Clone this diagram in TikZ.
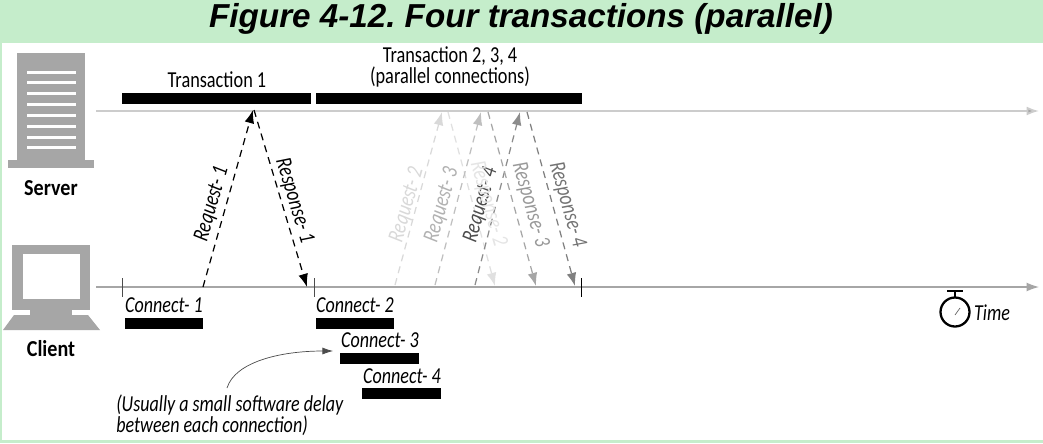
\documentclass[tikz,border=0pt]{standalone}
\usepackage{fontspec}
\setmainfont{Liberation Sans}
\newfontfamily\narrowfont{Carlito}
\usepackage{xcolor}
\usetikzlibrary{arrows.meta,positioning,calc}
\definecolor{headgreen}{HTML}{C5EDCB}
\definecolor{icongray}{HTML}{A6A6A6}
\tikzset{
    lbl/.style={font=\narrowfont\fontsize{13}{12}\selectfont,inner sep=0pt,xscale=0.8},
    ital/.style={font=\narrowfont\itshape\fontsize{13}{12.5}\selectfont,inner sep=0pt,xscale=0.79},
    boldlbl/.style={font=\narrowfont\bfseries\fontsize{13}{13}\selectfont,inner sep=0pt,xscale=0.88},
    msg/.style={-{Latex[length=7.5pt,width=5.5pt]},dash pattern=on 4pt off 3pt,line width=0.7pt},
    timeline/.style={-{Latex[length=7pt,width=5pt]},line width=1pt},
}
\begin{document}
\begin{tikzpicture}[x=0.02cm,y=-0.02cm]
        \useasboundingbox (0,0) rectangle (1043,443);
        % Draw frame and title
        \fill[headgreen] (0,0) rectangle (1043,443);
        \fill[white] (2,43) rectangle (1043,440);
        \node[font=\bfseries\itshape\fontsize{18.9}{20}\selectfont,inner sep=0pt] (title) at (521,19) {\frenchspacing Figure 4-12. Four transactions (parallel)};
        % Draw server icon
        \fill[icongray] (17,53) rectangle (85,160);
        \fill[icongray] (8,160) rectangle (94,168);
        \fill[white] (27,71) rectangle (76,74);
        \fill[white] (27,81) rectangle (76,84);
        \fill[white] (27,92) rectangle (76,95);
        \fill[white] (27,103) rectangle (76,106);
        \fill[white] (27,114) rectangle (76,117);
        \fill[white] (27,125) rectangle (76,128);
        \fill[white] (27,136) rectangle (76,139);
        \fill[white] (27,146) rectangle (76,149);
        \node[boldlbl] (server) at (51,188) {Server};
        % Draw client icon
        \fill[icongray] (12,245) rectangle (90,310);
        \fill[white] (23,254) rectangle (80,299);
        \fill[icongray] (30,310) rectangle (72,316);
        \fill[icongray] (14,315) -- (88,315) -- (100,330) -- (3,330) -- cycle;
        \node[boldlbl] (client) at (51,349) {Client};
        % Draw time lines
        \coordinate (servstart) at (96,111);
        \coordinate (servend) at (1039,111);
        \coordinate (clistart) at (96,287);
        \coordinate (cliend) at (1039,287);
        \draw[timeline,draw=black!20,-{Latex[length=7pt,width=5pt,fill=black!35]}] (servstart) -- (servend);
        \draw[timeline,draw=black!35,line width=0.7pt] (clistart) -- (cliend);
        \draw[black!70] (122,278) -- (122,297);
        \draw[black!70] (314,278) -- (314,297);
        \draw[black] (581,278) -- (581,297);
        % Draw transaction bars
        \fill[black] (122,93) rectangle (311,104);
        \fill[black] (316,93) rectangle (582,104);
        \node[lbl] (trans1) at (217,80) {Transaction 1};
        \node[lbl,align=center] (trans2) at (450,67) {Transaction 2, 3, 4\\(parallel connections)};
        % Draw connect bars
        \fill[black] (125,318) rectangle (203,329);
        \fill[black] (316,318) rectangle (394,329);
        \fill[black] (340,353) rectangle (419,364);
        \fill[black] (362,388) rectangle (441,399);
        \node[ital] (conn1) at (164,305) {Connect- 1};
        \node[ital] (conn2) at (355,305) {Connect- 2};
        \node[ital] (conn3) at (380,340) {Connect- 3};
        \node[ital] (conn4) at (402,376) {Connect- 4};
        % Draw requests and responses
        \coordinate (req1a) at (203,287);
        \coordinate (req1b) at (253,110);
        \coordinate (res1a) at (254,110);
        \coordinate (res1b) at (307,287);
        \coordinate (req2a) at (395,285);
        \coordinate (req2b) at (442,112);
        \coordinate (req3a) at (435,285);
        \coordinate (req3b) at (481,112);
        \coordinate (req4a) at (475,285);
        \coordinate (req4b) at (520,112);
        \coordinate (res2a) at (448,112);
        \coordinate (res2b) at (495,286);
        \coordinate (res3a) at (488,112);
        \coordinate (res3b) at (536,286);
        \coordinate (res4a) at (527,112);
        \coordinate (res4b) at (575,286);
        \draw[msg,black!12] (res2a) -- (res2b);
        \draw[msg,black!15] (req2a) -- (req2b);
        \draw[msg,black!25] (req3a) -- (req3b);
        \draw[msg,black!45] (req4a) -- (req4b);
        \draw[msg,black!35] (res3a) -- (res3b);
        \draw[msg,black!50] (res4a) -- (res4b);
        \draw[msg,black] (req1a) -- (req1b);
        \draw[msg,black] (res1a) -- (res1b);
        \node[rotate=74,ital] (req1lbl) at (212,204) {Request- 1};
        \node[rotate=-73,ital] (res1lbl) at (294,201) {Response- 1};
        \node[rotate=74,ital,black!15] (req2lbl) at (407,205) {Request- 2};
        \node[rotate=74,ital,black!30] (req3lbl) at (442,205) {Request- 3};
        \node[rotate=74,ital,black!70] (req4lbl) at (481,205) {Request- 4};
        \node[rotate=-74,ital,black!10] (res2lbl) at (488,204) {Response- 2};
        \node[rotate=-74,ital,black!40] (res3lbl) at (530,205) {Response- 3};
        \node[rotate=-74,ital,black!55] (res4lbl) at (567,205) {Response- 4};
        % Draw the delay note
        \node[ital,align=left,anchor=north west] (note) at (116,394) {(Usually a small software delay\\between each connection)};
        \coordinate (notefrom) at (227,388);
        \coordinate (noteto) at (333,351);
        \draw[-{Latex[length=6pt,width=4pt]},black!70] (notefrom) .. controls (235,362) and (280,351) .. (noteto);
        % Draw the clock
        \draw[line width=1.3pt] (955,312) circle (14.5);
        \draw[line width=1.2pt] (947,291) -- (963,291);
        \draw[line width=1.2pt] (955,291) -- (955,297);
        \draw[black!60] (955,315) -- (960,308);
        \node[ital] (time) at (992,313) {Time};
    \end{tikzpicture}
\end{document}
